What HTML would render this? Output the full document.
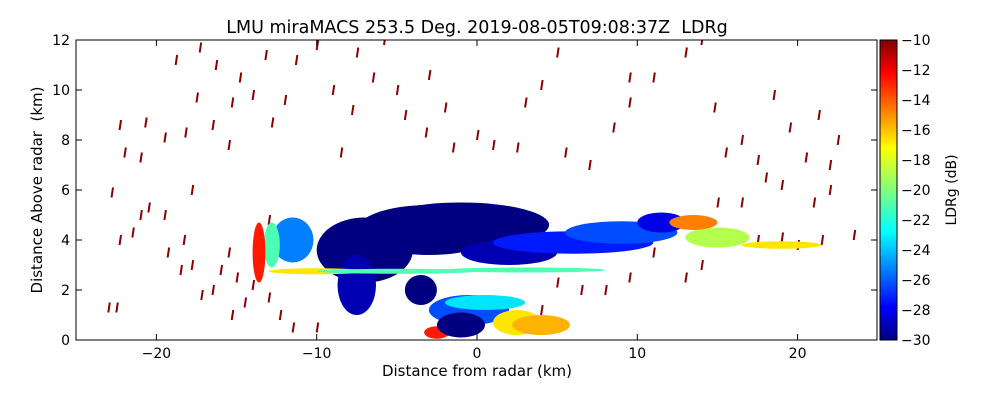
<!DOCTYPE html>
<html><head><meta charset="utf-8"><style>
body{margin:0;background:#fff;font-family:"DejaVu Sans",sans-serif}
svg text{font-family:"DejaVu Sans","Liberation Sans",sans-serif}
</style></head><body>
<svg id="c" width="1000" height="400" xmlns="http://www.w3.org/2000/svg">
<defs><linearGradient id="jet" x1="0" y1="1" x2="0" y2="0">
<stop offset="0" stop-color="#00007f"/><stop offset="0.11" stop-color="#0000ff"/><stop offset="0.36" stop-color="#00ffff"/><stop offset="0.5" stop-color="#7fff7f"/><stop offset="0.64" stop-color="#ffff00"/><stop offset="0.89" stop-color="#ff0000"/><stop offset="1" stop-color="#7f0000"/></linearGradient>
<clipPath id="pc"><rect x="76" y="40" width="801" height="300"/></clipPath></defs>
<text x="477" y="33" text-anchor="middle" font-size="17.5">LMU miraMACS 253.5 Deg. 2019-08-05T09:08:37Z&#160; LDRg</text>
<g id="plot" clip-path="url(#pc)"></g>
<rect x="76" y="40" width="801" height="300" fill="none" stroke="#000"/>
<g id="axes"></g>
<rect x="880" y="40" width="17" height="300" fill="url(#jet)" stroke="#000"/>
<text x="477" y="376" text-anchor="middle" font-size="15">Distance from radar (km)</text>
<text transform="translate(42,190) rotate(-90)" text-anchor="middle" font-size="15">Distance Above radar&#160; (km)</text>
<text transform="translate(956,190) rotate(-90)" text-anchor="middle" font-size="14">LDRg (dB)</text>
</svg>
<script>
const xTicks=[-20,-10,0,10,20];
const yTicks=[0,2,4,6,8,10,12];
const cbTicks=[-10,-12,-14,-16,-18,-20,-22,-24,-26,-28,-30];
const blobX=[-11.5,-12.8,-13.6,-3,-1,-7,-7.5,-3.5,2,6,9,11.5,-10,-5,3,-0.5,0.5,2.5,-2.5,4,15,19,13.5,-1];
const blobY=[4,3.8,3.5,4.4,4.6,3.6,2.2,2.0,3.5,3.9,4.3,4.7,2.75,2.75,2.8,1.2,1.5,0.7,0.3,0.6,4.1,3.8,4.7,0.6];
const blobRX=[1.3,0.5,0.4,4.5,5.5,3,1.2,1.0,3,5,3.5,1.5,3,5,5,2.5,2.5,1.5,0.8,1.8,2,2.5,1.5,1.5];
const blobRY=[0.9,0.9,1.2,1,0.9,1.3,1.2,0.6,0.5,0.45,0.45,0.4,0.12,0.1,0.1,0.6,0.3,0.5,0.25,0.4,0.4,0.15,0.3,0.5];
const blobV=[-25,-21,-13,-30,-30,-30,-29,-30,-29,-27,-26,-28,-17,-21,-21,-26,-23,-17,-13,-16,-19,-17,-15,-30];
const dashX=[-23,-22.5,-22.3,-21.5,-21,-20.5,-19.5,-19.3,-18.5,-18.3,-17.8,-17.2,-16.5,-16,-15.5,-15,-15.3,-14.5,-14,-13.5,-22.8,-22,-22.3,-21,-20.7,-19.5,-18.2,-17.8,-18.8,-17.3,-17.5,-16.3,-16.5,-15.5,-15.3,-14.8,-14,-13.2,-12.8,-12,-11.3,-10,-9,-8.5,-7.8,-7.5,-6.5,-5.8,-5,-4.5,-3,-3.2,-2,-1.5,0,1,2.5,3,4,5,5.5,7,8.5,9.5,9.5,11,13,14.8,14,15.5,16.5,17.5,18.5,19.5,19,20.5,21.3,22,22.5,21,22,18,16.5,15,17.5,19,20,21.5,23.5,14,13,11,9.5,8,6.5,5,4,-10,-11.5,-12.3,-13,-12,-13];
const dashY=[1.3,1.3,4,4.3,5,5.3,5,3.5,2.8,4,3,1.8,2,2.8,3.5,2.5,1,1.5,2.2,3,5.9,7.5,8.6,7.3,8.7,8.1,8.3,6,11.2,11.7,9.7,11,8.6,7.8,9.5,10.5,9.8,11.4,8.7,9.6,11.2,11.8,10,7.5,9.2,11.5,10.5,12,10,9,10.6,8.3,9.3,7.7,8.2,7.8,7.7,9.5,10.2,11.5,7.5,7,8.5,9.5,10.5,10.5,11.5,9.3,12,7.5,8,7.2,9.8,8.5,6.2,7.3,9,7,8,5.5,6,6.5,5.5,5.5,4,4.1,3.8,4,4.2,3,2.5,3.5,2.5,2,2,2.3,1.2,0.5,0.5,1,1.7,4,4.8];
const NS="http://www.w3.org/2000/svg";
const X=v=>477+v*16.03, Y=v=>340-v*25;
function jet(v){let t=Math.max(0,Math.min(1,(v+30)/20));
 const f=(a)=>Math.max(0,Math.min(1,1.5-Math.abs(4*t-a)));
 return `rgb(${Math.round(255*f(3))},${Math.round(255*f(2))},${Math.round(255*f(1))})`;}
function mk(tag,at,p){const e=document.createElementNS(NS,tag);for(const k in at)e.setAttribute(k,at[k]);p.appendChild(e);return e;}
const plot=document.getElementById('plot'),axes=document.getElementById('axes');
for(let i=0;i<dashX.length;i++){
 const e=mk('line',{x1:X(dashX[i]),y1:Y(dashY[i])+5,x2:X(dashX[i])+1.5,y2:Y(dashY[i])-5,stroke:'#8b0000','stroke-width':2},plot);
 
 
}
for(let i=0;i<blobX.length;i++){
 const e=mk('ellipse',{cx:X(blobX[i]),cy:Y(blobY[i]),rx:blobRX[i]*16.03,ry:blobRY[i]*25,fill:jet(blobV[i])},plot);
 
 
}
xTicks.forEach(v=>{const x=X(v);mk('line',{x1:x,y1:340,x2:x,y2:334,stroke:'#000'},axes);mk('line',{x1:x,y1:40,x2:x,y2:46,stroke:'#000'},axes);
 const t=mk('text',{x:x,y:358,'text-anchor':'middle','font-size':14},axes);t.textContent=v<0?'\u2212'+(-v):v;
 
 });
yTicks.forEach(v=>{const y=Y(v);mk('line',{x1:76,y1:y,x2:82,y2:y,stroke:'#000'},axes);mk('line',{x1:877,y1:y,x2:871,y2:y,stroke:'#000'},axes);
 const t=mk('text',{x:70,y:y+5,'text-anchor':'end','font-size':14},axes);t.textContent=v;
 
 });
cbTicks.forEach(v=>{const y=340-(v+30)*15;mk('line',{x1:893,y1:y,x2:897,y2:y,stroke:'#000'},axes);
 const t=mk('text',{x:901,y:y+5,'font-size':14},axes);t.textContent='\u2212'+(-v);
 
 });
</script>
</body></html>
